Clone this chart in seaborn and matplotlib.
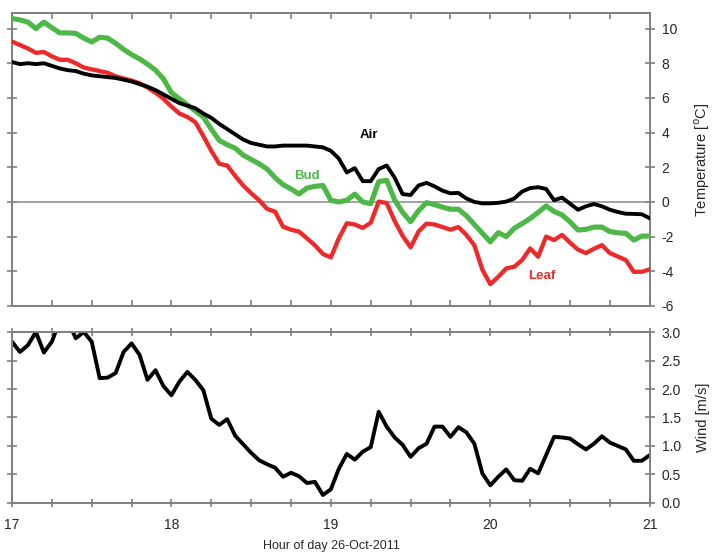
import numpy as np
import pandas as pd
import matplotlib
matplotlib.use("Agg")
import matplotlib.pyplot as plt
from matplotlib.ticker import MultipleLocator, FormatStrFormatter
import seaborn as sns

# time axis, 3-minute steps from 17:00 to 21:00
hours = np.round(np.arange(17, 21.001, 0.05), 2)

air = [8.07, 7.95, 8.0, 7.95, 8.0, 7.85, 7.7, 7.6, 7.55, 7.4,
       7.3, 7.25, 7.2, 7.15, 7.05, 6.95, 6.8, 6.65, 6.45, 6.2,
       5.95, 5.7, 5.55, 5.4, 5.1, 4.85, 4.5, 4.2, 3.9, 3.6,
       3.4, 3.3, 3.2, 3.2, 3.25, 3.25, 3.25, 3.25, 3.2, 3.15,
       2.95, 2.5, 1.7, 1.95, 1.2, 1.2, 1.9, 2.1, 1.4, 0.45,
       0.4, 0.95, 1.1, 0.9, 0.65, 0.5, 0.52, 0.2, 0.0, -0.08,
       -0.08, -0.05, 0.02, 0.2, 0.6, 0.8, 0.85, 0.75, 0.1, 0.25,
       -0.1, -0.45, -0.25, -0.12, -0.25, -0.45, -0.58, -0.68, -0.69, -0.71,
       -0.94]

bud = [10.58, 10.5, 10.37, 10.0, 10.37, 10.05, 9.75, 9.75, 9.72, 9.45,
       9.23, 9.5, 9.45, 9.15, 8.8, 8.5, 8.25, 7.95, 7.6, 7.1,
       6.3, 5.95, 5.6, 5.25, 4.9, 4.2, 3.55, 3.3, 3.1, 2.7,
       2.45, 2.2, 1.9, 1.4, 1.0, 0.75, 0.46, 0.8, 0.9, 0.95,
       0.1, 0.0, 0.1, 0.45, 0.0, -0.1, 1.17, 1.25, 0.12, -0.6,
       -1.14, -0.5, -0.04, -0.15, -0.3, -0.42, -0.42, -0.8, -1.3, -1.8,
       -2.3, -1.77, -2.0, -1.52, -1.25, -0.95, -0.6, -0.23, -0.55, -0.75,
       -1.15, -1.62, -1.58, -1.45, -1.45, -1.71, -1.78, -1.81, -2.2, -1.97,
       -1.97]

leaf = [9.25, 9.05, 8.85, 8.6, 8.65, 8.4, 8.2, 8.2, 8.0, 7.75,
        7.65, 7.55, 7.45, 7.25, 7.12, 7.0, 6.85, 6.6, 6.3, 5.95,
        5.5, 5.1, 4.9, 4.6, 3.8, 2.95, 2.2, 2.1, 1.5, 0.95,
        0.5, 0.1, -0.4, -0.56, -1.43, -1.6, -1.71, -2.1, -2.5, -3.0,
        -3.2, -2.1, -1.23, -1.3, -1.5, -1.2, 0.02, -0.06, -1.1, -1.95,
        -2.62, -1.7, -1.25, -1.3, -1.45, -1.6, -1.45, -1.9, -2.5, -3.9,
        -4.74, -4.32, -3.83, -3.74, -3.35, -2.68, -3.16, -2.0, -2.2, -1.9,
        -2.35, -2.75, -2.95, -2.7, -2.49, -2.95, -3.15, -3.35, -4.03, -4.03,
        -3.89]

wind = [2.83, 2.65, 2.77, 3.0, 2.64, 2.83, 3.2, 3.2, 2.89, 3.0,
        2.83, 2.19, 2.2, 2.28, 2.65, 2.8, 2.6, 2.16, 2.33, 2.05,
        1.89, 2.13, 2.3, 2.16, 1.98, 1.48, 1.37, 1.47, 1.18, 1.03,
        0.88, 0.75, 0.68, 0.62, 0.46, 0.53, 0.47, 0.35, 0.37, 0.14,
        0.24, 0.6, 0.86, 0.76, 0.9, 0.98, 1.6, 1.34, 1.15, 1.02,
        0.81, 0.96, 1.04, 1.34, 1.34, 1.16, 1.33, 1.24, 1.04, 0.52,
        0.31, 0.46, 0.59, 0.4, 0.39, 0.6, 0.52, 0.84, 1.16, 1.15,
        1.13, 1.03, 0.94, 1.04, 1.17, 1.06, 1.0, 0.94, 0.74, 0.74,
        0.84]

temp_df = pd.DataFrame({"hour": hours, "Air": air, "Bud": bud, "Leaf": leaf})
temp_long = temp_df.melt(id_vars="hour", var_name="series", value_name="temp")
wind_df = pd.DataFrame({"hour": hours, "wind": wind})

sns.set_theme(style="white")
plt.rcParams["font.family"] = ["Liberation Sans", "DejaVu Sans"]
plt.rcParams["axes.unicode_minus"] = False

colors = {"Air": "#000000", "Bud": "#4cb847", "Leaf": "#ec2a2a"}
widths = {"Air": 2.8, "Bud": 3.7, "Leaf": 3.1}
spine_col = "#7f7f7f"

fig = plt.figure(figsize=(7.14, 5.54), dpi=100)
ax1 = fig.add_axes([0.0168, 0.4477, 0.8932, 0.5289])
ax2 = fig.add_axes([0.0168, 0.0921, 0.8932, 0.3086])

ax1.axhline(0, color="#888888", lw=1.1, zorder=1)
for name in ["Leaf", "Bud", "Air"]:
    sns.lineplot(data=temp_long[temp_long["series"] == name], x="hour", y="temp",
                 color=colors[name], lw=widths[name], ax=ax1, legend=False, zorder=3)

sns.lineplot(data=wind_df, x="hour", y="wind", color="black", lw=2.8, ax=ax2, legend=False)

ax1.text(19.24, 3.85, "Air", color="black", fontsize=9.5, fontweight="bold", ha="center", va="center")
ax1.text(18.85, 1.5, "Bud", color=colors["Bud"], fontsize=9.5, fontweight="bold", ha="center", va="center")
ax1.text(20.32, -4.28, "Leaf", color=colors["Leaf"], fontsize=9.5, fontweight="bold", ha="center", va="center")

ax1.set_xlim(17, 21)
ax1.set_ylim(-6, 10.9)
ax2.set_xlim(17, 21)
ax2.set_ylim(0, 3.0)

for ax in (ax1, ax2):
    for sp in ax.spines.values():
        sp.set_color(spine_col)
        sp.set_linewidth(1.4)
    ax.xaxis.set_major_locator(MultipleLocator(1))
    ax.xaxis.set_minor_locator(MultipleLocator(0.25))
    ax.yaxis.tick_right()
    ax.yaxis.set_label_position("right")
    ax.tick_params(axis="y", which="both", left=True, right=True, direction="inout",
                   length=7, width=1.2, color=spine_col, labelsize=10, pad=5)
    ax.set_xlabel("")
    ax.set_ylabel("")

ax1.yaxis.set_major_locator(MultipleLocator(2))
ax1.tick_params(axis="x", which="both", top=True, bottom=True, direction="in",
                length=4, width=1.2, color=spine_col, labelbottom=False)
ax1.set_ylabel("Temperature [$^{\\rm o}$C]", fontsize=10.5, labelpad=11)

ax2.yaxis.set_major_locator(MultipleLocator(0.5))
ax2.yaxis.set_major_formatter(FormatStrFormatter("%.1f"))
ax2.tick_params(axis="x", which="both", top=True, bottom=True, direction="inout",
                length=6, width=1.2, color=spine_col, labelsize=10, pad=8)
ax2.set_ylabel("Wind [m/s]", fontsize=10.5, labelpad=11)

fig.text(0.464, 0.004, "Hour of day 26-Oct-2011", fontsize=9, ha="center", va="bottom")

fig.savefig("out.png", dpi=100)
